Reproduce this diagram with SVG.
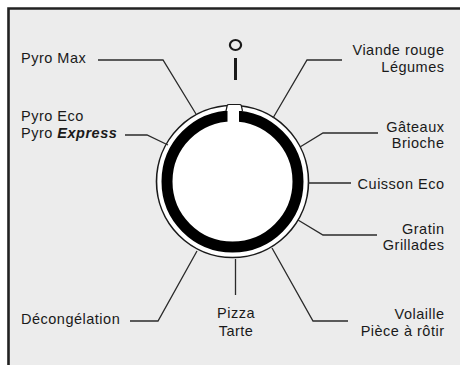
<svg xmlns="http://www.w3.org/2000/svg" width="460" height="365" viewBox="0 0 460 365">
<style>
.lbl{font-family:"Liberation Sans",Arial,sans-serif;font-size:14.5px;letter-spacing:0.5px;fill:#1a1a1a}
.r{text-anchor:end}
.c{text-anchor:middle}
.ld{fill:none;stroke:#2a2a2a;stroke-width:1.3;stroke-linejoin:miter}
</style>
<rect x="0" y="0" width="460" height="365" fill="#ffffff"/>
<rect x="8.5" y="8.5" width="452" height="357" fill="#ececec"/>
<path d="M8.5 365 V8.5 H460" fill="none" stroke="#222" stroke-width="2.6"/>
<g id="power-symbol">
<ellipse cx="235.5" cy="45" rx="5.6" ry="5" fill="none" stroke="#1a1a1a" stroke-width="2.2"/>
<line x1="235.5" y1="58" x2="235.5" y2="80" stroke="#1a1a1a" stroke-width="3"/>
</g>
<g id="dial">
<circle cx="232.5" cy="181.5" r="76" fill="#ffffff" stroke="#1a1a1a" stroke-width="1.6"/>
<circle cx="232.5" cy="181.5" r="65.5" fill="none" stroke="#000" stroke-width="11"/>
<rect x="227.5" y="108" width="11.5" height="18" fill="#ffffff"/>
<path d="M226 111 L227.2 105.5 Q227.5 104.5 229 104.5 H239.5 Q241 104.5 241.3 105.5 L242.5 111 Z" fill="#ffffff"/>
<path d="M226 111 L227.2 105.5 Q227.5 104.5 229 104.5 H239.5 Q241 104.5 241.3 105.5 L242.5 111" fill="none" stroke="#1a1a1a" stroke-width="1.2"/>
</g>
<g id="connectors">
<polyline class="ld" points="98,60 163,60 196,114"/>
<polyline class="ld" points="125,135 147,135 168,145"/>
<polyline class="ld" points="342,60 307,60 273,118"/>
<polyline class="ld" points="378,133 323,133 300,147"/>
<polyline class="ld" points="308,183 351,183"/>
<polyline class="ld" points="377,235 323,235 298,220"/>
<polyline class="ld" points="348,321 313,321 272,248"/>
<polyline class="ld" points="235.5,259 235.5,295"/>
<polyline class="ld" points="130,321 158,321 197,251"/>
</g>
<g id="pyro-max"><text class="lbl" x="21" y="63">Pyro Max</text></g>
<g id="pyro-eco"><text class="lbl" x="21" y="121">Pyro Eco</text><text class="lbl" x="21" y="138">Pyro <tspan font-weight="bold" font-style="italic">Express</tspan></text></g>
<g id="viande"><text class="lbl r" x="444.5" y="55">Viande rouge</text><text class="lbl r" x="444.5" y="71.5">Légumes</text></g>
<g id="gateaux"><text class="lbl r" x="444.5" y="131.5">Gâteaux</text><text class="lbl r" x="444.5" y="148">Brioche</text></g>
<g id="cuisson"><text class="lbl r" x="444.5" y="189">Cuisson Eco</text></g>
<g id="gratin"><text class="lbl r" x="444.5" y="233.5">Gratin</text><text class="lbl r" x="444.5" y="250">Grillades</text></g>
<g id="volaille"><text class="lbl r" x="444.5" y="318.5">Volaille</text><text class="lbl r" x="444.5" y="335.5">Pièce à rôtir</text></g>
<g id="pizza"><text class="lbl c" x="236" y="317.5">Pizza</text><text class="lbl c" x="236" y="336">Tarte</text></g>
<g id="decongelation"><text class="lbl" x="21" y="324">Décongélation</text></g>
</svg>
